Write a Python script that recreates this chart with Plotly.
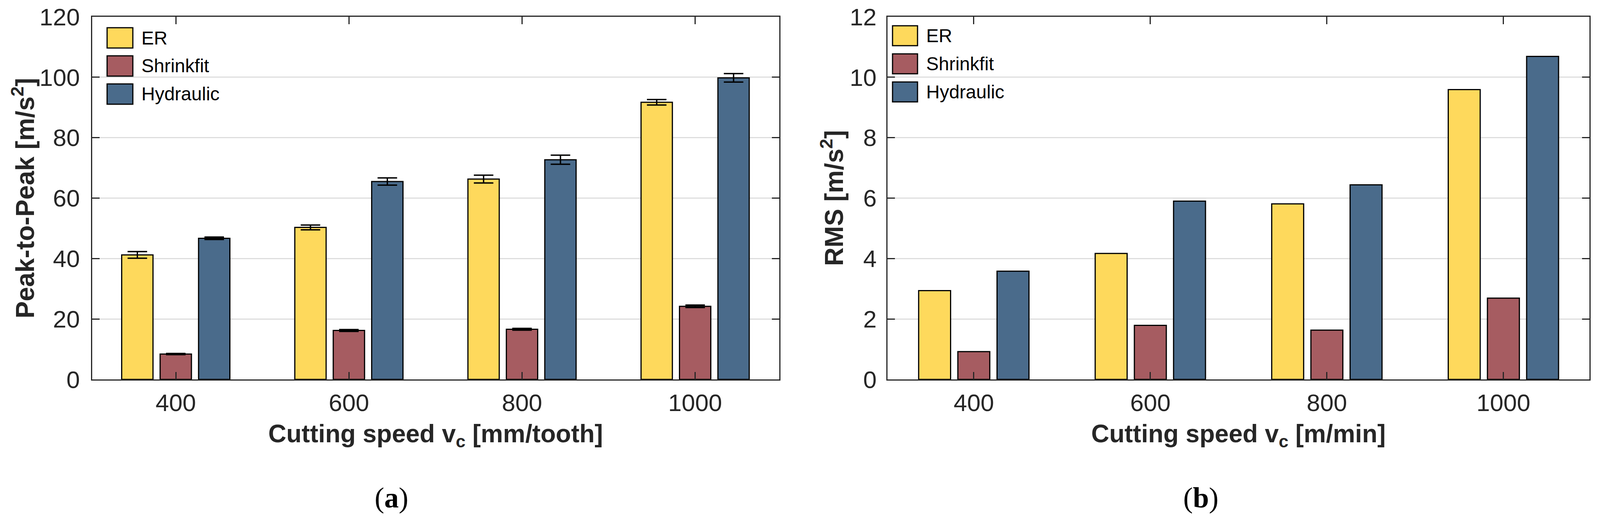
import plotly.graph_objects as go

# ---------------- data ----------------
speeds = ["400", "600", "800", "1000"]
series_names = ["ER", "Shrinkfit", "Hydraulic"]

p2p_er = [41.2, 50.3, 66.3, 91.7]
p2p_er_err = [1.1, 0.8, 1.3, 0.9]
p2p_shrink = [8.4, 16.2, 16.6, 24.2]
p2p_shrink_err = [0.2, 0.3, 0.3, 0.4]
p2p_hyd = [46.7, 65.5, 72.7, 99.8]
p2p_hyd_err = [0.4, 1.2, 1.5, 1.4]

rms_er = [2.94, 4.17, 5.81, 9.59]
rms_shrink = [0.92, 1.79, 1.63, 2.69]
rms_hyd = [3.58, 5.90, 6.44, 10.69]

p2p_ticks = [0, 20, 40, 60, 80, 100, 120]
rms_ticks = [0, 2, 4, 6, 8, 10, 12]

# ---------------- style ----------------
W, H = 4288, 1327          # reference frame used for placing things (as fractions)
colors = ["#FED95C", "#A65C61", "#4A6B8B"]
axcol = "#262626"
sans = "Liberation Sans, Arial, sans-serif"
serif = "Liberation Serif, Times New Roman, serif"


def px(x):
    return x / W


def py(y):
    return 1 - y / H


fig = go.Figure()

p2p_vals = [p2p_er, p2p_shrink, p2p_hyd]
p2p_errs = [p2p_er_err, p2p_shrink_err, p2p_hyd_err]
rms_vals = [rms_er, rms_shrink, rms_hyd]

for i, name in enumerate(series_names):
    fig.add_trace(go.Bar(
        x=speeds, y=p2p_vals[i], name=name, xaxis="x", yaxis="y",
        marker=dict(color=colors[i], line=dict(color="black", width=3)),
        error_y=dict(type="data", array=p2p_errs[i], visible=True,
                     color="black", thickness=3.5, width=25),
        showlegend=False, offsetgroup=str(i),
    ))
for i, name in enumerate(series_names):
    fig.add_trace(go.Bar(
        x=speeds, y=rms_vals[i], name=name, xaxis="x2", yaxis="y2",
        marker=dict(color=colors[i], line=dict(color="black", width=3)),
        showlegend=False, offsetgroup=str(i),
    ))

common_axis = dict(
    showline=True, linewidth=3, linecolor=axcol, mirror="allticks",
    ticks="inside", ticklen=19, tickwidth=3, tickcolor=axcol,
    tickfont=dict(family=sans, size=62, color=axcol),
    zeroline=False, automargin=False,
)
xtitle_font = dict(family=sans, size=64, color=axcol)

fig.update_layout(
    autosize=True,
    margin=dict(l=0, r=0, t=0, b=0),
    paper_bgcolor="white", plot_bgcolor="white",
    barmode="group", bargap=0.334, bargroupgap=0.185,
    xaxis=dict(
        **common_axis, type="category", domain=[px(247), px(2088)],
        range=[-0.483, 3.485], anchor="y", showgrid=False,
        ticklabelstandoff=4,
        title=dict(text="<b>Cutting speed v<sub>c</sub> [mm/tooth]</b>",
                   font=xtitle_font, standoff=23),
    ),
    yaxis=dict(
        **common_axis, domain=[py(972), py(43)], range=[0, 120],
        tickvals=p2p_ticks, anchor="x", showgrid=True,
        gridcolor="#DEDEDE", gridwidth=3, ticklabelstandoff=16,
    ),
    xaxis2=dict(
        **common_axis, type="category", domain=[px(2378), px(4260)],
        range=[-0.49, 3.488], anchor="y2", showgrid=False,
        ticklabelstandoff=4,
        title=dict(text="<b>Cutting speed v<sub>c</sub> [m/min]</b>",
                   font=xtitle_font, standoff=23),
    ),
    yaxis2=dict(
        **common_axis, domain=[py(972), py(43)], range=[0, 12],
        tickvals=rms_ticks, anchor="x2", showgrid=True,
        gridcolor="#DEDEDE", gridwidth=3, ticklabelstandoff=12,
    ),
)

shapes = []
annotations = []

# y-axis titles (placed explicitly to sit where the reference has them)
ytitles = [("<b>Peak-to-Peak [m/s<sup>2</sup>]</b>", 63),
           ("<b>RMS [m/s<sup>2</sup>]</b>", 2231)]
for text, xc in ytitles:
    annotations.append(dict(
        xref="paper", yref="paper", x=px(xc), y=py(507.5), xanchor="center",
        yanchor="middle", text=text, textangle=-90, showarrow=False,
        font=dict(family=sans, size=66, color=axcol),
    ))

# legends (drawn manually so the boxes match the large swatches)
legend_specs = [
    dict(x0=287, x1=356, y0=71, h=52, tx=377, size=48),
    dict(x0=2392, x1=2459, y0=66, h=51, tx=2480, size=48),
]
for spec in legend_specs:
    for i, name in enumerate(series_names):
        top = spec["y0"] + 72 * i
        shapes.append(dict(
            type="rect", xref="paper", yref="paper",
            x0=px(spec["x0"]), x1=px(spec["x1"]),
            y0=py(top + spec["h"]), y1=py(top),
            fillcolor=colors[i], line=dict(color="black", width=3), layer="above",
        ))
        annotations.append(dict(
            xref="paper", yref="paper", x=px(spec["tx"]), y=py(top + spec["h"] / 2),
            xanchor="left", yanchor="middle", text=name, showarrow=False,
            font=dict(family=sans, size=spec["size"], color="black"),
        ))

# panel labels
annotations.append(dict(xref="paper", yref="paper", x=px(1049), y=py(1275),
                        xanchor="center", yanchor="middle", text="(<b>a</b>)",
                        showarrow=False, font=dict(family=serif, size=74, color="black")))
annotations.append(dict(xref="paper", yref="paper", x=px(3218), y=py(1275),
                        xanchor="center", yanchor="middle", text="(<b>b</b>)",
                        showarrow=False, font=dict(family=serif, size=74, color="black")))

fig.update_layout(shapes=shapes, annotations=annotations)

# make the figure fill the browser viewport exactly
post = """
var de=document.documentElement, b=document.body;
de.style.margin='0'; de.style.padding='0'; de.style.height='100%'; de.style.overflow='hidden';
b.style.margin='0'; b.style.padding='0'; b.style.height='100%'; b.style.overflow='hidden';
var gd=document.getElementById('{plot_id}');
gd.style.width='100vw'; gd.style.height='100vh';
Plotly.Plots.resize(gd);
"""
fig.write_html("out.html", post_script=post, default_width="100%", default_height="100%",
               config={"displayModeBar": False})
